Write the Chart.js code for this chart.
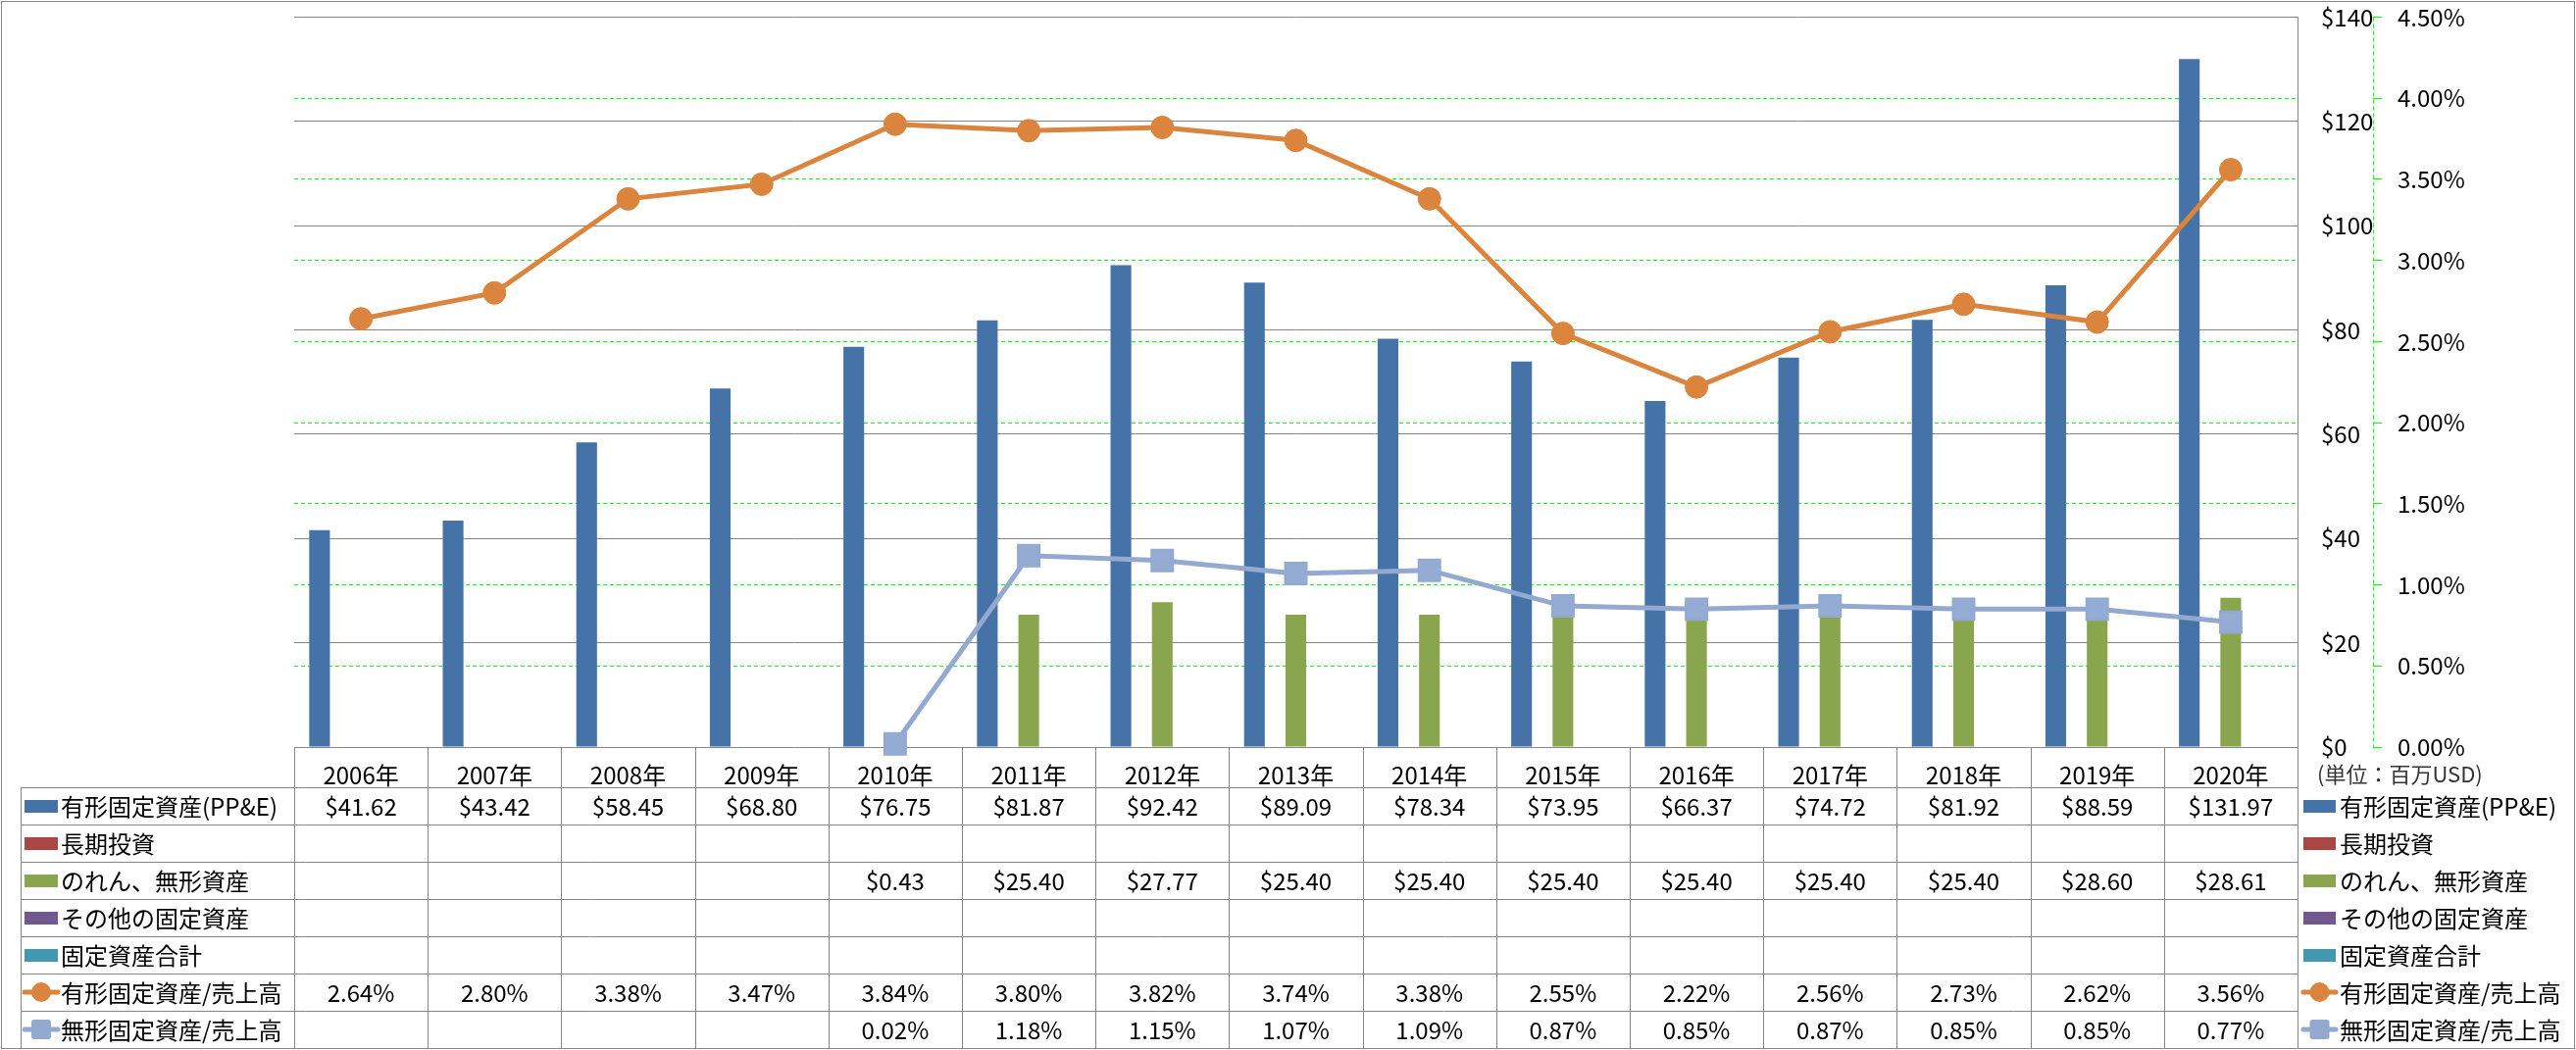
<!DOCTYPE html>
<html><head><meta charset="utf-8">
<script src="https://cdn.jsdelivr.net/npm/chart.js@4/dist/chart.umd.min.js"></script>
<style>html,body{margin:0;padding:0;background:#fff}canvas{display:block}</style>
</head><body>
<canvas id="c" width="2627" height="1071"></canvas>
<script>
const years = ['2006年','2007年','2008年','2009年','2010年','2011年','2012年','2013年','2014年','2015年','2016年','2017年','2018年','2019年','2020年'];
const ppe = [41.62, 43.42, 58.45, 68.80, 76.75, 81.87, 92.42, 89.09, 78.34, 73.95, 66.37, 74.72, 81.92, 88.59, 131.97];
const longTermInv = [null, null, null, null, null, null, null, null, null, null, null, null, null, null, null];
const goodwill = [null, null, null, null, 0.43, 25.40, 27.77, 25.40, 25.40, 25.40, 25.40, 25.40, 25.40, 28.60, 28.61];
const otherAssets = [null, null, null, null, null, null, null, null, null, null, null, null, null, null, null];
const totalAssets = [null, null, null, null, null, null, null, null, null, null, null, null, null, null, null];
const ppeRatio = [2.64, 2.80, 3.38, 3.47, 3.84, 3.80, 3.82, 3.74, 3.38, 2.55, 2.22, 2.56, 2.73, 2.62, 3.56];
const intRatio = [null, null, null, null, 0.02, 1.18, 1.15, 1.07, 1.09, 0.87, 0.85, 0.87, 0.85, 0.85, 0.77];
const dollarTicks = [0, 20, 40, 60, 80, 100, 120, 140];
const pctTicks = [0, 0.5, 1, 1.5, 2, 2.5, 3, 3.5, 4, 4.5];
const unitLabel = '(単位：百万USD)';

const FONT = "'Noto Sans CJK JP', 'Liberation Sans', sans-serif";
const C_BLUE = '#4572A7', C_RED = '#AA4643', C_GREEN = '#89A54E', C_PURPLE = '#71588F', C_TEAL = '#4198AF';
const C_ORANGE = '#DB843D', C_LBLUE = '#93A9CF';
const GRID = '#868686', GREEN = '#00FF00';

const money = v => '$' + v.toFixed(2);
const pct = v => v.toFixed(2) + '%';
const rows = [
  {label:'有形固定資産(PP&E)', kind:'bar', color:C_BLUE, data:ppe, fmt:money},
  {label:'長期投資', kind:'bar', color:C_RED, data:longTermInv, fmt:money},
  {label:'のれん、無形資産', kind:'bar', color:C_GREEN, data:goodwill, fmt:money},
  {label:'その他の固定資産', kind:'bar', color:C_PURPLE, data:otherAssets, fmt:money},
  {label:'固定資産合計', kind:'bar', color:C_TEAL, data:totalAssets, fmt:money},
  {label:'有形固定資産/売上高', kind:'line', marker:'circle', color:C_ORANGE, data:ppeRatio, fmt:pct},
  {label:'無形固定資産/売上高', kind:'line', marker:'rect', color:C_LBLUE, data:intRatio, fmt:pct}
];

function roundRect(ctx, x, y, w, h, r) {
  ctx.beginPath();
  ctx.moveTo(x + r, y); ctx.lineTo(x + w - r, y); ctx.quadraticCurveTo(x + w, y, x + w, y + r);
  ctx.lineTo(x + w, y + h - r); ctx.quadraticCurveTo(x + w, y + h, x + w - r, y + h);
  ctx.lineTo(x + r, y + h); ctx.quadraticCurveTo(x, y + h, x, y + h - r);
  ctx.lineTo(x, y + r); ctx.quadraticCurveTo(x, y, x + r, y); ctx.closePath();
}
function drawKey(ctx, row, x0, x1, yc) {
  ctx.save();
  if (row.kind === 'bar') {
    ctx.fillStyle = row.color;
    ctx.fillRect(x0, Math.round(yc - 6), x1 - x0, 13);
  } else {
    ctx.strokeStyle = row.color; ctx.lineWidth = 5; ctx.lineCap = 'round';
    ctx.beginPath(); ctx.moveTo(x0, yc); ctx.lineTo(x1, yc); ctx.stroke();
    ctx.fillStyle = row.color;
    const cx = (x0 + x1) / 2;
    if (row.marker === 'circle') {
      ctx.beginPath(); ctx.arc(cx, yc, 10, 0, Math.PI * 2); ctx.fill();
    } else {
      roundRect(ctx, cx - 10, yc - 10, 20, 20, 3); ctx.fill();
    }
  }
  ctx.restore();
}

const tablePlugin = {
  id: 'tablePlugin',
  beforeDraw(chart) {
    const ctx = chart.ctx;
    ctx.save(); ctx.fillStyle = '#fff'; ctx.fillRect(0, 0, chart.width, chart.height); ctx.restore();
  },
  afterDraw(chart) {
    const ctx = chart.ctx;
    const xs = chart.scales.x, y1 = chart.scales.y1;
    const n = years.length;
    const left = xs.left, right = xs.right;
    const cw = (right - left) / n;
    const top = xs.bottom;
    const rowH = 38;
    const tLeft = 21;
    const bottom = top + rowH * rows.length;
    ctx.save();
    ctx.strokeStyle = GREEN; ctx.lineWidth = 1; ctx.setLineDash([4, 3]);
    ctx.beginPath(); ctx.moveTo(Math.round(y1.left) + 0.5, y1.top); ctx.lineTo(Math.round(y1.left) + 0.5, y1.bottom); ctx.stroke();
    ctx.setLineDash([]);
    ctx.strokeStyle = GRID; ctx.lineWidth = 1;
    ctx.beginPath();
    for (let r = 0; r <= rows.length; r++) {
      const yy = Math.round(top + r * rowH) + 0.5;
      ctx.moveTo(tLeft, yy); ctx.lineTo(right + 0.5, yy);
    }
    ctx.moveTo(tLeft + 0.5, top); ctx.lineTo(tLeft + 0.5, bottom);
    for (let i = 0; i <= n; i++) {
      const xx = Math.round(xs.getPixelForValue(Math.min(i, n - 1)) + (i === n ? cw / 2 : -cw / 2)) + 0.5;
      ctx.moveTo(xx, xs.top); ctx.lineTo(xx, bottom + 0.5);
    }
    ctx.stroke();
    ctx.fillStyle = '#000';
    ctx.font = '24px ' + FONT;
    ctx.textBaseline = 'middle';
    rows.forEach((row, r) => {
      const yc = top + r * rowH + rowH / 2;
      ctx.textAlign = 'center';
      row.data.forEach((v, i) => {
        if (v === null) return;
        ctx.fillText(row.fmt(v), xs.getPixelForValue(i), yc + 1);
      });
      ctx.textAlign = 'left';
      drawKey(ctx, row, 25, 59, yc);
      ctx.fillStyle = '#000';
      ctx.fillText(row.label, 62, yc + 1);
      drawKey(ctx, row, right + 6, right + 39, yc);
      ctx.fillStyle = '#000';
      ctx.fillText(row.label, right + 43, yc + 1);
    });
    ctx.font = '22px ' + FONT;
    ctx.fillStyle = '#333';
    ctx.textAlign = 'left';
    ctx.fillText(unitLabel, right + 20, xs.top + 28);
    ctx.strokeStyle = GRID; ctx.lineWidth = 1;
    ctx.strokeRect(1.5, 1.5, chart.width - 3, chart.height - 3);
    ctx.restore();
  }
};

const barDs = (label, data, color) => ({
  type: 'bar', label, data, backgroundColor: color, yAxisID: 'y', order: 1,
  categoryPercentage: 0.775, barPercentage: 1.0
});
const noPad = s => { s.paddingTop = 0; s.paddingBottom = 0; s.paddingLeft = 0; s.paddingRight = 0; };

new Chart(document.getElementById('c'), {
  data: {
    labels: years,
    datasets: [
      barDs(rows[0].label, ppe, C_BLUE),
      barDs(rows[1].label, longTermInv, C_RED),
      barDs(rows[2].label, goodwill, C_GREEN),
      barDs(rows[3].label, otherAssets, C_PURPLE),
      barDs(rows[4].label, totalAssets, C_TEAL),
      { type: 'line', label: rows[5].label, data: ppeRatio, yAxisID: 'y1', order: 0,
        borderColor: C_ORANGE, borderWidth: 5, pointStyle: 'circle', pointRadius: 11.5, pointBorderWidth: 1,
        pointBackgroundColor: C_ORANGE, pointBorderColor: C_ORANGE, tension: 0, clip: false },
      { type: 'line', label: rows[6].label, data: intRatio, yAxisID: 'y1', order: 0,
        borderColor: C_LBLUE, borderWidth: 5, pointStyle: 'rect', pointRadius: 15.5, pointBorderWidth: 2,
        pointBackgroundColor: '#94ABD3', pointBorderColor: C_LBLUE, tension: 0, clip: false, spanGaps: false }
    ]
  },
  options: {
    responsive: false, animation: false, devicePixelRatio: 1,
    layout: { padding: { left: 300, right: 57, top: 15, bottom: 268 } },
    plugins: { legend: { display: false }, tooltip: { enabled: false } },
    scales: {
      x: {
        grid: { display: false }, border: { display: false },
        ticks: { font: { family: FONT, size: 24 }, color: '#000', padding: 6, maxRotation: 0, autoSkip: false },
        afterFit(s) { s.height = 41; noPad(s); }
      },
      y: {
        position: 'right', weight: 0,
        min: dollarTicks[0], max: dollarTicks[dollarTicks.length - 1],
        ticks: { stepSize: dollarTicks[1] - dollarTicks[0], callback: v => '$' + v,
                 font: { family: FONT, size: 24 }, color: '#000', padding: 24 },
        grid: { color: GRID, lineWidth: 1, drawTicks: false },
        border: { display: true, color: GRID, width: 1 },
        afterFit(s) { s.width = 77; noPad(s); }
      },
      y1: {
        position: 'right', weight: 1,
        min: pctTicks[0], max: pctTicks[pctTicks.length - 1],
        ticks: { stepSize: pctTicks[1] - pctTicks[0], callback: v => Number(v).toFixed(2) + '%',
                 font: { family: FONT, size: 24 }, color: '#000', padding: 16 },
        grid: {
          color: c => (c.tick && (c.tick.value === pctTicks[0] || c.tick.value === pctTicks[pctTicks.length - 1])) ? 'rgba(0,0,0,0)' : GREEN,
          lineWidth: 1, drawTicks: true, tickLength: 9, tickColor: GREEN
        },
        border: { display: false, dash: [4, 3] },
        afterFit(s) { s.width = 150; noPad(s); }
      }
    }
  },
  plugins: [tablePlugin]
});
</script>
</body></html>
